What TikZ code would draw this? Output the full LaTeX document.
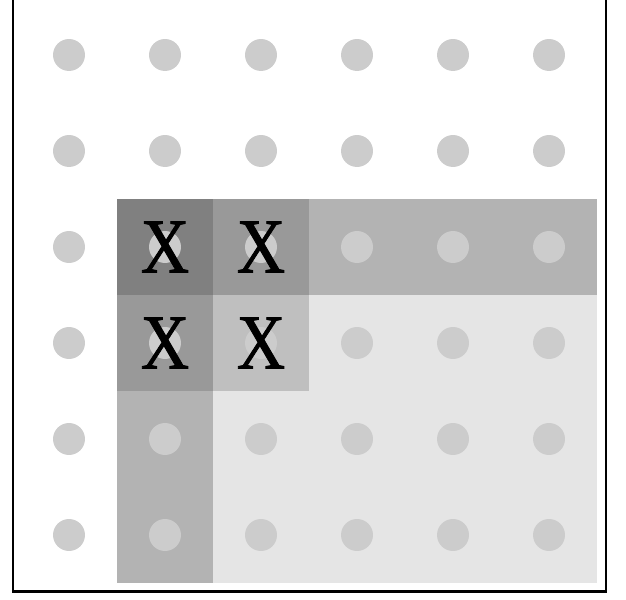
\documentclass[tikz,border=0pt]{standalone}
\usepackage{fontspec}
\usepackage{tikz}
\usetikzlibrary{positioning}
\newfontfamily\markfont[FakeBold=1.2]{Liberation Serif}
\definecolor{dotgray}{HTML}{CCCCCC}
\definecolor{bandgray}{HTML}{B3B3B3}
\definecolor{lightgray}{HTML}{E5E5E5}
\definecolor{darkcell}{HTML}{808080}
\definecolor{midcell}{HTML}{999999}
\definecolor{palecell}{HTML}{BFBFBF}
\newcommand{\cellx}{\scalebox{0.86}[1]{X}}
\begin{document}
\begin{tikzpicture}[
        dot/.style={circle, fill=dotgray, inner sep=0pt, minimum size=0.333cm},
        xlabel/.style={inner sep=0pt, font=\markfont\fontsize{23.1}{26}\selectfont},
        frame/.style={draw, line width=0.75pt}
    ]
        \useasboundingbox (-0.71875,0.5729) rectangle (5.802,-5.677);
        % shaded regions
        \fill[lightgray] (1.5,-1.5) rectangle (5.5,-5.5);
        \fill[bandgray] (0.5,-1.5) rectangle (1.5,-5.5);
        \fill[bandgray] (0.5,-1.5) rectangle (5.5,-2.5);
        \fill[darkcell] (0.5,-1.5) rectangle (1.5,-2.5);
        \fill[midcell] (1.5,-1.5) rectangle (2.5,-2.5);
        \fill[midcell] (0.5,-2.5) rectangle (1.5,-3.5);
        \fill[palecell] (1.5,-2.5) rectangle (2.5,-3.5);
        % grid of dots
        \foreach \i in {0,...,5}
            \foreach \j in {0,...,5}
                \node[dot] (d-\i-\j) at (\i,-\j) {};
        % marked cells
        \node[xlabel] (x11) at (d-1-2) {\cellx};
        \node[xlabel] (x21) at (d-2-2) {\cellx};
        \node[xlabel] (x12) at (d-1-3) {\cellx};
        \node[xlabel] (x22) at (d-2-3) {\cellx};
        \draw[frame] (-0.5833,0.9) -- (-0.5833,-5.589) -- (5.594,-5.589) -- (5.594,0.9);
    \end{tikzpicture}
\end{document}
